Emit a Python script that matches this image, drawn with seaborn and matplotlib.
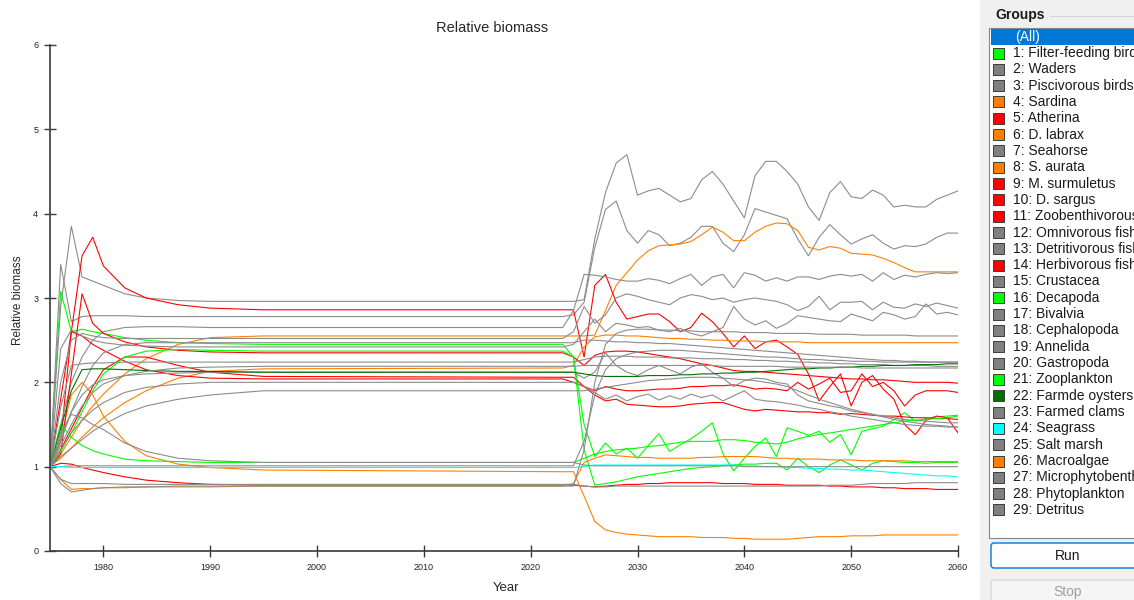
import matplotlib
matplotlib.use('Agg')
import pandas as pd
import matplotlib.pyplot as plt
import seaborn as sns
from matplotlib.patches import Rectangle, FancyBboxPatch

# sample years: yearly at the start and after 2023, the long flat stretch in between
years = [1975, 1976, 1977, 1978, 1979, 1980, 1982, 1984, 1987, 1990, 1995, 2023] + list(range(2024, 2061))

group_names = ['1: Filter-feeding birds', '2: Waders', '3: Piscivorous birds', '4: Sardina',
               '5: Atherina', '6: D. labrax', '7: Seahorse', '8: S. aurata', '9: M. surmuletus',
               '10: D. sargus', '11: Zoobenthivorous fish', '12: Omnivorous fish',
               '13: Detritivorous fish', '14: Herbivorous fish', '15: Crustacea', '16: Decapoda',
               '17: Bivalvia', '18: Cephalopoda', '19: Annelida', '20: Gastropoda',
               '21: Zooplankton', '22: Farmde oysters', '23: Farmed clams', '24: Seagrass',
               '25: Salt marsh', '26: Macroalgae', '27: Microphytobenthos', '28: Phytoplankton',
               '29: Detritus']

GREEN, GRAY, ORANGE, RED, DGREEN, CYAN = '#00ff00', '#8c8c8c', '#ff8000', '#ff0000', '#007000', '#00ffff'
group_colors = [GREEN, GRAY, GRAY, ORANGE, RED, ORANGE, GRAY, ORANGE, RED, RED, RED, GRAY, GRAY, RED,
                GRAY, GREEN, GRAY, GRAY, GRAY, GRAY, GREEN, DGREEN, GRAY, CYAN, GRAY, ORANGE, GRAY,
                GRAY, GRAY]

filter_feeding_birds = [1.0, 3.08, 2.6, 2.63, 2.6, 2.58, 2.53, 2.5, 2.47, 2.46, 2.45, 2.45,
                        2.3, 1.5, 1.12, 1.28, 1.15, 1.22, 1.1, 1.25, 1.39, 1.18,
                        1.26, 1.33, 1.42, 1.52, 1.15, 0.95, 1.1, 1.24, 1.34, 1.12,
                        1.46, 1.42, 1.37, 1.42, 1.29, 1.38, 1.14, 1.42, 1.45, 1.48,
                        1.56, 1.64, 1.54, 1.57, 1.59, 1.6, 1.61]
waders = [1.0, 2.9, 3.85, 3.25, 3.2, 3.15, 3.05, 3.0, 2.97, 2.96, 2.96, 2.96,
          2.96, 2.98, 3.7, 4.25, 4.6, 4.7, 4.22, 4.27, 4.3, 4.22,
          4.14, 4.18, 4.4, 4.5, 4.35, 4.15, 3.95, 4.45, 4.62, 4.62,
          4.5, 4.35, 4.08, 3.92, 4.25, 4.38, 4.2, 4.18, 4.28, 4.22,
          4.08, 4.1, 4.08, 4.08, 4.17, 4.22, 4.27]
piscivorous_birds = [1.0, 3.4, 2.72, 2.78, 2.79, 2.79, 2.79, 2.78, 2.78, 2.78, 2.78, 2.78,
                     2.8, 2.95, 3.6, 4.05, 4.15, 3.8, 3.65, 3.8, 3.75, 3.62,
                     3.65, 3.72, 3.85, 3.85, 3.65, 3.55, 3.75, 4.06, 4.02, 3.98,
                     3.94, 3.7, 3.5, 3.72, 3.87, 3.75, 3.64, 3.7, 3.75, 3.65,
                     3.58, 3.62, 3.61, 3.64, 3.72, 3.77, 3.77]
sardina = [1.0, 1.15, 1.35, 1.55, 1.72, 1.86, 2.1, 2.28, 2.45, 2.53, 2.55, 2.55,
           2.55, 2.55, 2.56, 2.85, 3.15, 3.3, 3.45, 3.56, 3.62, 3.63,
           3.64, 3.67, 3.75, 3.84, 3.78, 3.68, 3.68, 3.78, 3.85, 3.89,
           3.88, 3.8, 3.6, 3.57, 3.61, 3.59, 3.53, 3.52, 3.51, 3.47,
           3.42, 3.36, 3.31, 3.31, 3.31, 3.31, 3.31]
atherina = [1.0, 1.3, 2.6, 3.5, 3.72, 3.38, 3.12, 3.0, 2.92, 2.88, 2.86, 2.86,
            2.86, 2.3, 3.15, 3.28, 2.95, 2.75, 2.78, 2.81, 2.81, 2.72,
            2.6, 2.65, 2.82, 2.72, 2.58, 2.42, 2.55, 2.4, 2.48, 2.5,
            2.42, 2.33, 2.1, 1.78, 1.95, 2.1, 1.72, 2.0, 2.08, 1.92,
            1.8, 1.5, 1.38, 1.55, 1.6, 1.58, 1.4]
d_labrax = [1.0, 1.1, 1.22, 1.35, 1.47, 1.58, 1.76, 1.9, 2.05, 2.13, 2.16, 2.17,
            2.2, 2.42, 2.54, 2.56, 2.56, 2.55, 2.55, 2.54, 2.53, 2.52,
            2.52, 2.51, 2.51, 2.5, 2.5, 2.49, 2.49, 2.49, 2.48, 2.48,
            2.48, 2.48, 2.47, 2.47, 2.47, 2.47, 2.47, 2.47, 2.47, 2.47,
            2.47, 2.47, 2.47, 2.47, 2.47, 2.47, 2.47]
seahorse = [1.0, 1.5, 2.0, 2.3, 2.5, 2.6, 2.65, 2.66, 2.66, 2.65, 2.65, 2.65,
            2.85, 3.28, 3.27, 3.25, 3.22, 3.2, 3.2, 3.23, 3.21, 3.17,
            3.23, 3.28, 3.15, 3.25, 3.28, 3.12, 3.3, 3.27, 3.2, 3.24,
            3.2, 3.25, 3.25, 3.22, 3.26, 3.28, 3.26, 3.28, 3.2, 3.3,
            3.22, 3.27, 3.25, 3.28, 3.3, 3.29, 3.3]
s_aurata = [1.0, 1.35, 1.85, 2.0, 1.85, 1.6, 1.3, 1.13, 1.03, 0.99, 0.96, 0.94,
            0.94, 0.65, 0.35, 0.25, 0.22, 0.2, 0.19, 0.18, 0.17, 0.17,
            0.17, 0.17, 0.16, 0.16, 0.16, 0.15, 0.15, 0.14, 0.14, 0.14,
            0.14, 0.15, 0.16, 0.17, 0.17, 0.17, 0.18, 0.18, 0.18, 0.19,
            0.19, 0.19, 0.19, 0.19, 0.19, 0.19, 0.19]
m_surmuletus = [1.0, 1.15, 2.1, 3.05, 2.7, 2.58, 2.48, 2.42, 2.38, 2.36, 2.35, 2.35,
                2.3, 2.2, 2.32, 2.36, 2.37, 2.37, 2.36, 2.34, 2.32, 2.3,
                2.28, 2.25, 2.22, 2.2, 2.17, 2.14, 2.13, 2.13, 2.12, 2.11,
                2.1, 2.09, 2.08, 2.07, 2.06, 2.05, 2.04, 2.04, 2.03, 2.03,
                2.02, 2.01, 2.0, 2.0, 2.0, 2.0, 1.99]
d_sargus = [1.0, 1.2, 1.45, 1.7, 1.95, 2.15, 2.3, 2.3, 2.2, 2.12, 2.07, 2.06,
            2.06, 1.95, 1.9, 1.95, 1.92, 1.9, 1.9, 1.91, 1.92, 1.92,
            1.93, 1.95, 1.95, 1.96, 1.96, 1.97, 1.95, 1.92, 1.93, 1.92,
            1.9, 2.0, 1.92, 1.98, 2.05, 1.88, 1.9, 2.1, 1.95, 2.0,
            1.9, 1.72, 1.85, 1.9, 1.9, 1.9, 1.88]
zoobenthivorous_fish = [1.0, 1.8, 2.6, 2.55, 2.45, 2.38, 2.25, 2.15, 2.08, 2.05, 2.04, 2.04,
                        2.0, 1.95, 1.85, 1.78, 1.8, 1.74, 1.73, 1.72, 1.71, 1.71,
                        1.72, 1.74, 1.75, 1.76, 1.76, 1.72, 1.68, 1.66, 1.68, 1.67,
                        1.66, 1.65, 1.65, 1.64, 1.64, 1.62, 1.63, 1.62, 1.61, 1.6,
                        1.6, 1.59, 1.58, 1.58, 1.57, 1.57, 1.56]
omnivorous_fish = [1.0, 2.0, 2.5, 2.58, 2.55, 2.53, 2.52, 2.52, 2.52, 2.52, 2.52, 2.52,
                   2.6, 2.9, 2.7, 2.8, 3.0, 3.05, 3.02, 2.98, 2.95, 2.92,
                   3.0, 3.04, 3.02, 2.98, 3.0, 2.95, 2.98, 3.0, 2.98, 2.96,
                   2.92, 2.85, 2.9, 3.02, 2.86, 2.95, 2.95, 2.96, 2.86, 2.95,
                   2.89, 2.88, 2.93, 2.9, 2.94, 2.91, 2.88]
detritivorous_fish = [1.0, 2.4, 2.62, 2.55, 2.5, 2.47, 2.44, 2.43, 2.42, 2.42, 2.42, 2.42,
                      2.45, 2.6, 2.75, 2.6, 2.7, 2.68, 2.65, 2.66, 2.62, 2.6,
                      2.64, 2.58, 2.55, 2.6, 2.65, 2.9, 2.75, 2.68, 2.73, 2.64,
                      2.7, 2.79, 2.77, 2.75, 2.73, 2.72, 2.81, 2.77, 2.73, 2.83,
                      2.8, 2.75, 2.78, 2.93, 2.81, 2.83, 2.8]
herbivorous_fish = [1.0, 1.04, 1.03, 0.99, 0.96, 0.93, 0.88, 0.84, 0.81, 0.79, 0.78, 0.78,
                    0.78, 0.77, 0.76, 0.77, 0.78, 0.79, 0.79, 0.8, 0.8, 0.81,
                    0.81, 0.81, 0.81, 0.81, 0.8, 0.8, 0.8, 0.79, 0.79, 0.79,
                    0.78, 0.78, 0.78, 0.78, 0.77, 0.77, 0.76, 0.76, 0.76, 0.75,
                    0.75, 0.74, 0.74, 0.74, 0.73, 0.73, 0.73]
crustacea = [1.0, 1.7, 2.2, 2.22, 2.23, 2.23, 2.24, 2.24, 2.24, 2.24, 2.24, 2.24,
             2.24, 2.27, 2.3, 2.31, 2.31, 2.31, 2.3, 2.3, 2.3, 2.29,
             2.29, 2.29, 2.28, 2.28, 2.28, 2.27, 2.27, 2.26, 2.26, 2.25,
             2.25, 2.24, 2.24, 2.23, 2.23, 2.22, 2.22, 2.21, 2.21, 2.21,
             2.2, 2.2, 2.2, 2.2, 2.19, 2.19, 2.19]
decapoda = [1.0, 1.18, 1.4, 1.65, 1.9, 2.1, 2.3, 2.37, 2.39, 2.38, 2.37, 2.37,
            2.3, 1.2, 0.78, 0.8, 0.82, 0.85, 0.88, 0.9, 0.92, 0.94,
            0.96, 0.98, 0.99, 1.0, 1.01, 1.02, 1.03, 1.03, 1.04, 1.04,
            0.96, 1.1, 1.0, 0.93, 1.02, 1.08, 1.02, 0.96, 1.04, 1.07,
            1.06, 1.05, 1.05, 1.04, 1.05, 1.05, 1.05]
bivalvia = [1.0, 1.3, 1.65, 1.95, 2.2, 2.35, 2.45, 2.47, 2.47, 2.47, 2.47, 2.47,
            2.47, 2.5, 2.5, 2.49, 2.48, 2.48, 2.47, 2.47, 2.46, 2.46,
            2.45, 2.44, 2.43, 2.42, 2.41, 2.4, 2.39, 2.38, 2.37, 2.36,
            2.35, 2.34, 2.33, 2.32, 2.31, 2.3, 2.29, 2.28, 2.27, 2.26,
            2.26, 2.25, 2.25, 2.24, 2.24, 2.24, 2.24]
cephalopoda = [1.0, 1.35, 1.65, 1.85, 1.97, 2.03, 2.08, 2.1, 2.11, 2.12, 2.12, 2.12,
               2.12, 2.05, 2.12, 2.35, 2.2, 2.12, 2.08, 2.15, 2.2, 2.15,
               2.1, 2.18, 2.22, 2.12, 2.05, 1.95, 2.02, 2.05, 2.04, 2.0,
               1.98, 1.85, 1.78, 1.75, 1.72, 1.7, 1.66, 1.64, 1.62, 1.6,
               1.58, 1.56, 1.55, 1.54, 1.53, 1.52, 1.52]
annelida = [1.0, 1.2, 1.4, 1.55, 1.67, 1.76, 1.88, 1.94, 1.98, 2.0, 2.0, 2.0,
            2.0, 1.95, 1.88, 1.8, 1.85, 1.78, 1.83, 1.86, 1.79, 1.84,
            1.8, 1.86, 1.82, 1.85, 1.78, 1.84, 1.9, 1.8, 1.78, 1.77,
            1.75, 1.73, 1.7, 1.68, 1.65, 1.63, 1.6, 1.58, 1.56, 1.54,
            1.52, 1.5, 1.49, 1.48, 1.48, 1.47, 1.47]
gastropoda = [1.0, 1.12, 1.22, 1.32, 1.42, 1.5, 1.63, 1.72, 1.8, 1.85, 1.9, 1.9,
              1.9, 1.9, 1.92, 1.94, 1.96, 1.98, 2.0, 2.02, 2.03, 2.04,
              2.05, 2.06, 2.06, 2.06, 2.05, 2.04, 2.03, 2.02, 2.0, 1.98,
              1.95, 1.9, 1.85, 1.8, 1.76, 1.72, 1.68, 1.65, 1.62, 1.59,
              1.56, 1.54, 1.52, 1.5, 1.49, 1.48, 1.47]
zooplankton = [1.0, 1.5, 1.35, 1.25, 1.19, 1.15, 1.09, 1.07, 1.06, 1.05, 1.05, 1.05,
               1.05, 1.1, 1.15, 1.18, 1.2, 1.21, 1.22, 1.24, 1.25, 1.27,
               1.29, 1.3, 1.3, 1.3, 1.32, 1.32, 1.31, 1.29, 1.28, 1.27,
               1.29, 1.33, 1.36, 1.38, 1.4, 1.42, 1.44, 1.46, 1.48, 1.5,
               1.52, 1.54, 1.55, 1.56, 1.57, 1.58, 1.6]
farmde_oysters = [1.0, 1.45, 1.9, 2.15, 2.16, 2.16, 2.15, 2.14, 2.13, 2.13, 2.12, 2.12,
                  2.12, 2.1, 2.08, 2.07, 2.07, 2.07, 2.07, 2.08, 2.08, 2.08,
                  2.09, 2.09, 2.1, 2.1, 2.11, 2.11, 2.12, 2.12, 2.13, 2.14,
                  2.15, 2.16, 2.16, 2.17, 2.17, 2.18, 2.18, 2.19, 2.19, 2.2,
                  2.2, 2.2, 2.21, 2.21, 2.21, 2.22, 2.22]
farmed_clams = [1.0, 1.0, 1.01, 1.01, 1.01, 1.01, 1.01, 1.01, 1.01, 1.01, 1.01, 1.01,
                1.01, 1.3, 1.85, 2.15, 2.28, 2.33, 2.36, 2.37, 2.38, 2.38,
                2.38, 2.37, 2.36, 2.35, 2.34, 2.33, 2.32, 2.31, 2.3, 2.3,
                2.29, 2.28, 2.27, 2.27, 2.26, 2.26, 2.25, 2.25, 2.25, 2.24,
                2.24, 2.24, 2.24, 2.24, 2.24, 2.24, 2.24]
seagrass = [1.0, 1.0, 0.99, 0.99, 0.99, 0.99, 0.99, 0.99, 0.99, 0.99, 0.99, 0.99,
            0.99, 1.0, 1.02, 1.02, 1.02, 1.02, 1.02, 1.02, 1.02, 1.02,
            1.02, 1.02, 1.02, 1.02, 1.02, 1.02, 1.01, 1.01, 1.0, 1.0,
            0.99, 0.99, 0.98, 0.98, 0.97, 0.97, 0.96, 0.96, 0.95, 0.94,
            0.93, 0.92, 0.91, 0.9, 0.89, 0.89, 0.88]
salt_marsh = [1.0, 1.4, 1.62, 1.58, 1.5, 1.44, 1.28, 1.18, 1.1, 1.07, 1.05, 1.05,
              1.05, 1.02, 1.01, 1.01, 1.01, 1.01, 1.01, 1.01, 1.01, 1.01,
              1.01, 1.01, 1.01, 1.01, 1.01, 1.01, 1.0, 1.0, 1.0, 1.0,
              1.0, 1.0, 1.0, 1.0, 1.0, 1.0, 1.0, 1.0, 1.0, 1.0,
              1.0, 1.0, 1.0, 1.0, 1.0, 1.0, 1.0]
macroalgae = [1.0, 0.85, 0.73, 0.74, 0.74, 0.75, 0.75, 0.76, 0.76, 0.76, 0.77, 0.77,
              0.8, 1.05, 1.1, 1.14, 1.13, 1.12, 1.11, 1.11, 1.1, 1.1,
              1.1, 1.1, 1.11, 1.11, 1.12, 1.12, 1.12, 1.12, 1.11, 1.1,
              1.1, 1.09, 1.09, 1.09, 1.08, 1.08, 1.08, 1.07, 1.07, 1.07,
              1.07, 1.07, 1.06, 1.06, 1.06, 1.06, 1.06]
microphytobenthos = [1.0, 0.8, 0.7, 0.72, 0.74, 0.75, 0.76, 0.76, 0.77, 0.77, 0.77, 0.77,
                     0.77, 1.2, 2.0, 2.45, 2.58, 2.62, 2.63, 2.63, 2.62, 2.62,
                     2.61, 2.61, 2.6, 2.6, 2.6, 2.6, 2.59, 2.59, 2.59, 2.58,
                     2.58, 2.58, 2.58, 2.57, 2.57, 2.57, 2.57, 2.56, 2.56, 2.56,
                     2.56, 2.56, 2.55, 2.55, 2.55, 2.55, 2.55]
phytoplankton = [1.0, 1.25, 1.5, 1.72, 1.88, 1.98, 2.08, 2.13, 2.17, 2.18, 2.19, 2.19,
                 2.19, 2.2, 2.2, 2.2, 2.2, 2.2, 2.2, 2.2, 2.2, 2.2,
                 2.2, 2.2, 2.2, 2.2, 2.19, 2.19, 2.19, 2.19, 2.19, 2.19,
                 2.18, 2.18, 2.18, 2.18, 2.18, 2.18, 2.18, 2.17, 2.17, 2.17,
                 2.17, 2.17, 2.17, 2.17, 2.17, 2.17, 2.17]
detritus = [1.0, 0.85, 0.8, 0.8, 0.8, 0.8, 0.79, 0.79, 0.79, 0.79, 0.79, 0.79,
            0.79, 0.77, 0.76, 0.76, 0.77, 0.77, 0.77, 0.77, 0.77, 0.77,
            0.77, 0.77, 0.77, 0.77, 0.77, 0.77, 0.77, 0.77, 0.77, 0.77,
            0.77, 0.77, 0.77, 0.77, 0.78, 0.78, 0.78, 0.79, 0.8, 0.8,
            0.8, 0.8, 0.81, 0.81, 0.81, 0.81, 0.81]

series = [filter_feeding_birds, waders, piscivorous_birds, sardina, atherina, d_labrax, seahorse,
          s_aurata, m_surmuletus, d_sargus, zoobenthivorous_fish, omnivorous_fish,
          detritivorous_fish, herbivorous_fish, crustacea, decapoda, bivalvia, cephalopoda,
          annelida, gastropoda, zooplankton, farmde_oysters, farmed_clams, seagrass, salt_marsh,
          macroalgae, microphytobenthos, phytoplankton, detritus]

rows = []
for name, vals in zip(group_names, series):
    assert len(vals) == len(years), name
    for yr, v in zip(years, vals):
        rows.append((name, yr, v))
df = pd.DataFrame(rows, columns=['group', 'year', 'biomass'])

sns.set_theme(style='white')
plt.rcParams['font.family'] = ['Liberation Sans', 'DejaVu Sans']

W, H = 1134, 600
fig = plt.figure(figsize=(W / 100, H / 100), dpi=100)
fig.patch.set_facecolor('white')

ax = fig.add_axes([50 / W, 1 - 551 / H, (958 - 50) / W, (551 - 45) / H])
sns.lineplot(data=df, x='year', y='biomass', hue='group', hue_order=group_names,
             palette=dict(zip(group_names, group_colors)), legend=False,
             linewidth=0.8, estimator=None, errorbar=None, ax=ax)
ax.set_xlim(1975, 2060)
ax.set_ylim(0, 6)
ax.set_xticks(range(1980, 2061, 10))
ax.set_yticks(range(0, 7))
ax.set_xlabel('')
ax.set_ylabel('')
sns.despine(ax=ax)
for s in ['left', 'bottom']:
    ax.spines[s].set_color('#3a3a3a')
    ax.spines[s].set_linewidth(1.2)
ax.tick_params(bottom=True, left=True, direction='inout', length=9, width=1,
               color='#3a3a3a', labelsize=6.5, labelcolor='#222222', pad=4)

fig.text(492 / W, 1 - 28 / H, 'Relative biomass', ha='center', va='center', fontsize=10.5)
fig.text(506 / W, 1 - 588 / H, 'Year', ha='center', va='center', fontsize=9.5)
fig.text(18 / W, 1 - 300 / H, 'Relative biomass', ha='center', va='center',
         fontsize=8.5, rotation=90)

# right hand "Groups" panel, drawn in pixel coordinates
ui = fig.add_axes([0, 0, 1, 1])
ui.set_xlim(0, W)
ui.set_ylim(H, 0)
ui.axis('off')
ui.patch.set_alpha(0)

ui.add_patch(Rectangle((980, 0), W - 980, H, facecolor='#f0f0f0', edgecolor='none'))
ui.text(995, 15, 'Groups', ha='left', va='center', fontsize=10, fontweight='bold', color='#1a1a1a')
ui.plot([1050, W], [16, 16], color='#d5d5d5', linewidth=0.8)
ui.add_patch(Rectangle((989, 28), 160, 510, facecolor='white', edgecolor='#828790', linewidth=0.8))
ui.add_patch(Rectangle((991, 29), 160, 16, facecolor='#0078d7', edgecolor='none'))
ui.text(1015, 37, '(All)', ha='left', va='center', fontsize=10, color='white')

# the list runs past the right edge of the window, as in the screenshot
for i, (name, col) in enumerate(zip(group_names, group_colors)):
    yc = 53 + i * 16.32
    sw = col if col != GRAY else '#808080'
    ui.add_patch(Rectangle((993, yc - 5.5), 11, 11, facecolor=sw, edgecolor='#3c3c3c', linewidth=0.7))
    t = ui.text(1013, yc, name, ha='left', va='center', fontsize=10, color='#1a1a1a')
    t.set_clip_on(True)

ui.add_patch(FancyBboxPatch((991, 543), 160, 25, boxstyle='round,pad=0,rounding_size=3',
                            facecolor='#fdfdfd', edgecolor='#0078d7', linewidth=1))
ui.text(1068, 556, 'Run', ha='center', va='center', fontsize=10, color='#1a1a1a')
ui.add_patch(FancyBboxPatch((991, 580), 160, 26, boxstyle='round,pad=0,rounding_size=3',
                            facecolor='#f5f5f5', edgecolor='#d8d8d8', linewidth=1))
ui.text(1068, 592, 'Stop', ha='center', va='center', fontsize=10, color='#a0a0a0')

fig.savefig('out.png', dpi=100)
